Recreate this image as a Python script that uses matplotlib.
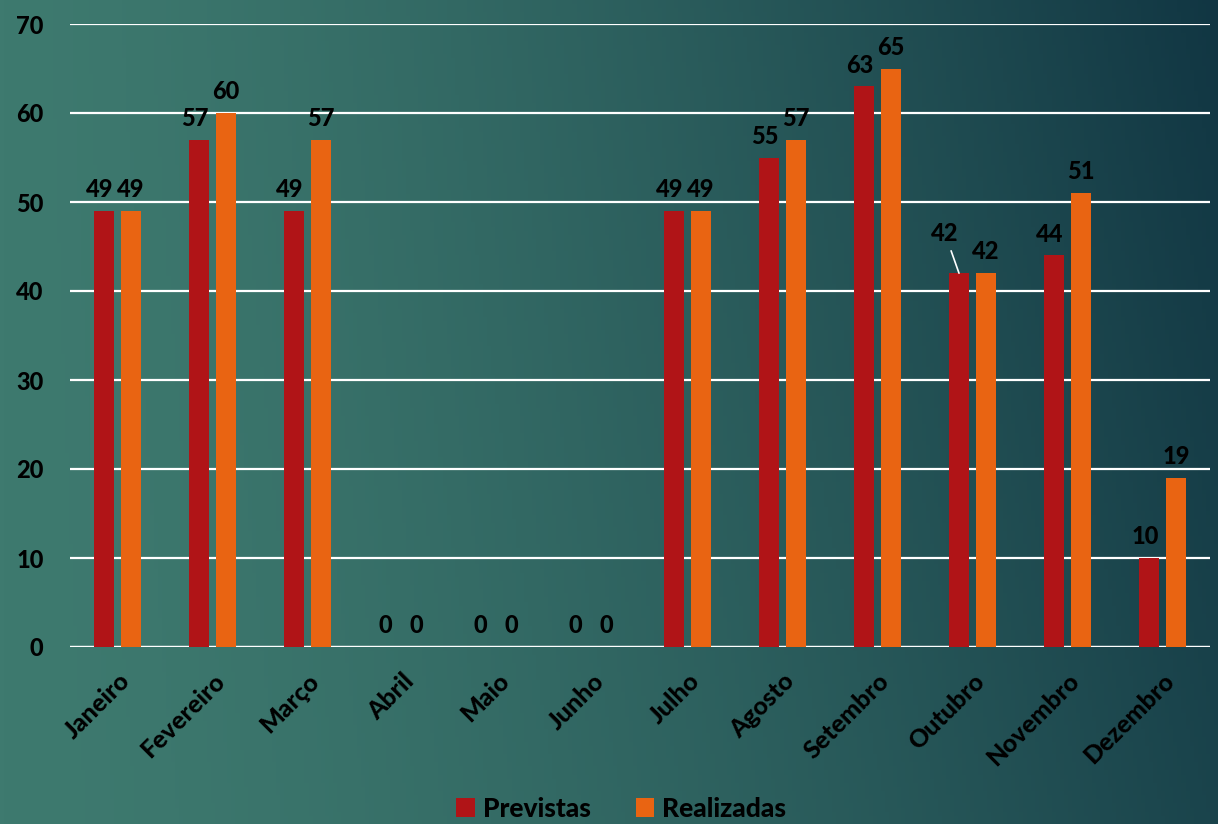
import numpy as np
import matplotlib
matplotlib.use("Agg")
import matplotlib.pyplot as plt

meses = ["Janeiro", "Fevereiro", "Março", "Abril", "Maio", "Junho",
         "Julho", "Agosto", "Setembro", "Outubro", "Novembro", "Dezembro"]
previstas = [49, 57, 49, 0, 0, 0, 49, 55, 63, 42, 44, 10]
realizadas = [49, 60, 57, 0, 0, 0, 49, 57, 65, 42, 51, 19]

plt.rcParams["font.family"] = ["Lato", "DejaVu Sans"]
plt.rcParams["font.weight"] = "heavy"
FW = 900

fig = plt.figure(figsize=(12.18, 8.24), dpi=100)

# background gradient
bg = fig.add_axes([0, 0, 1, 1], zorder=-10)
gx, gy = np.meshgrid(np.linspace(0, 1, 300), np.linspace(0, 1, 200))
t = np.clip(0.8 * gx ** 1.5 + 0.2 * (1 - gy) * gx, 0, 1)
c0 = np.array([62, 122, 111]) / 255
c1 = np.array([17, 54, 67]) / 255
img = c0[None, None, :] * (1 - t[..., None]) + c1[None, None, :] * t[..., None]
bg.imshow(img, aspect="auto", extent=[0, 1, 0, 1], origin="upper")
bg.axis("off")

ax = fig.add_axes([70 / 1218, 1 - 647 / 824, 1140 / 1218, 623 / 824])
ax.patch.set_alpha(0)

x = np.arange(len(meses))
w = 0.22
off = 0.142
red = "#b01417"
orange = "#e96412"
b1 = ax.bar(x - off, previstas, w, color=red, label="Previstas", zorder=3)
b2 = ax.bar(x + off, realizadas, w, color=orange, label="Realizadas", zorder=3)

for i, v in enumerate(previstas):
    if meses[i] == "Outubro":
        ax.annotate(str(v), xy=(x[i] - off, v), xytext=(-10, 20),
                    textcoords="offset points", ha="center", va="bottom",
                    fontsize=17, fontweight=FW, color="black",
                    arrowprops=dict(arrowstyle="-", color="white", lw=1.2,
                                    shrinkA=2, shrinkB=0))
    else:
        ax.annotate(str(v), xy=(x[i] - off, v), xytext=(-3, 7),
                    textcoords="offset points", ha="center", va="bottom",
                    fontsize=17, fontweight=FW, color="black")
for i, v in enumerate(realizadas):
    ax.annotate(str(v), xy=(x[i] + off, v), xytext=(0, 7),
                textcoords="offset points", ha="center", va="bottom",
                fontsize=17, fontweight=FW, color="black")

ax.set_xlim(-0.5, len(meses) - 0.5)
ax.set_ylim(0, 70)
ax.set_yticks(range(0, 71, 10))
ax.set_yticklabels([str(v) for v in range(0, 71, 10)], fontweight=FW)
ax.yaxis.grid(True, color="white", lw=1.6, zorder=0)
ax.set_axisbelow(True)
for s in ax.spines.values():
    s.set_visible(False)
ax.axhline(0, color="white", lw=1.6, zorder=2)
ax.tick_params(length=0)
ax.tick_params(axis="y", pad=19, labelsize=17)
ax.set_xticks(x)
ax.set_xticklabels(meses, rotation=45, ha="right", rotation_mode="anchor",
                   fontsize=18, fontweight=FW)
ax.tick_params(axis="x", pad=16)

leg = fig.legend(handles=[b1, b2], loc="lower center", bbox_to_anchor=(0.51, -0.025),
                 ncol=2, frameon=False, fontsize=19, handlelength=0.7,
                 handleheight=0.7, handletextpad=0.3, columnspacing=1.7)
for txt in leg.get_texts():
    txt.set_fontweight(FW)

fig.savefig("out.png", dpi=100)
